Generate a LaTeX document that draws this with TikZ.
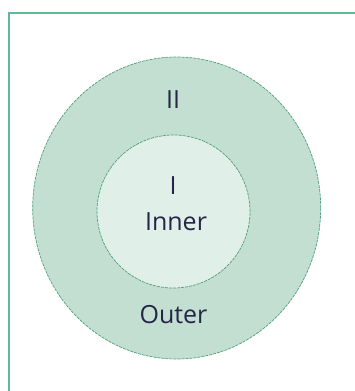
\documentclass[tikz,border=0pt]{standalone}
\usepackage{fontspec}
\setmainfont{Open Sans}
\usetikzlibrary{shapes.geometric}
\definecolor{frame}{HTML}{5DBB97}
\definecolor{ring}{HTML}{C2DFD1}
\definecolor{core}{HTML}{E0EFE8}
\definecolor{edge}{HTML}{4E9E7C}
\definecolor{ink}{HTML}{252548}
\begin{document}
\begin{tikzpicture}[x=1pt,y=-1pt,
  zone/.style={ellipse,draw=edge,line width=0.7pt,dash pattern=on 3pt off 1pt,inner sep=0pt},
  lbl/.style={anchor=base,text=ink,font=\fontsize{25}{28}\selectfont,inner sep=0pt}]
\useasboundingbox (0,0) rectangle (354,391);
\draw[frame,line width=2.6pt] (9,400) -- (9,13) -- (360,13);
\node[zone,fill=ring,minimum width=288pt,minimum height=302pt] (outer) at (176.7,208) {};
\node[zone,fill=core,minimum width=153pt,minimum height=153pt] (inner) at (173.5,211.5) {};
\node[lbl] (tII) at (173,108) {II};
\node[lbl] (tI) at (173,194) {I};
\node[lbl] (tInner) at (176,230) {Inner};
\node[lbl] (tOuter) at (173.5,323) {Outer};
\end{tikzpicture}
\end{document}
